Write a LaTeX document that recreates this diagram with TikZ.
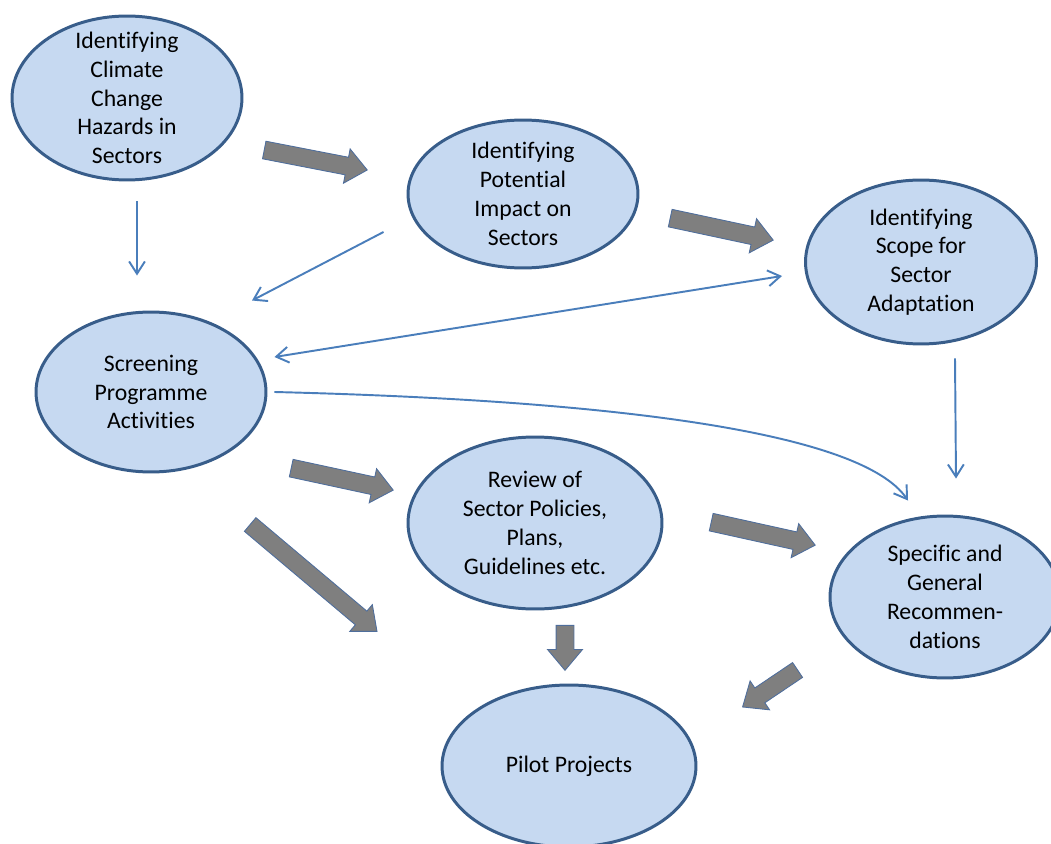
\documentclass[tikz,border=0pt]{standalone}
\usepackage{fontspec}
\setmainfont[Ligatures=NoCommon]{Carlito}
\usetikzlibrary{shapes.geometric,shapes.arrows,arrows.meta,calc}

\definecolor{ovalfill}{HTML}{C6D9F1}
\definecolor{ovaldraw}{HTML}{385D8A}
\definecolor{linkblue}{HTML}{4A7EBB}
\definecolor{blockgray}{HTML}{7F7F7F}
\definecolor{blockedge}{HTML}{4F6E9C}

% block arrow from #2 to #3, named #1
\newcommand{\blockarrow}[3]{%
  \path let \p1=($(#3)-(#2)$), \n1={atan2(\y1,\x1)}, \n2={veclen(\x1,\y1)} in
    node[blockarr, rotate=\n1, minimum height=\n2] (#1) at ($(#2)!0.5!(#3)$) {};}

\begin{document}
\begin{tikzpicture}[x=0.02cm, y=-0.02cm,
    phase/.style={ellipse, draw=ovaldraw, line width=1.7pt, fill=ovalfill,
        inner sep=-1cm, align=center, font=\fontsize{13.5}{16.4}\selectfont},
    link/.style={draw=linkblue, line width=1.1pt},
    >={Straight Barb[length=7pt,width=9pt]},
    blockarr/.style={single arrow, draw=blockedge, line width=0.5pt, fill=blockgray,
        inner xsep=0pt, inner ysep=0.17cm, single arrow head extend=0.17cm,
        single arrow tip angle=80}]

    \useasboundingbox (0,0) rectangle (1051,844);

    %States
    \node[phase, minimum width=4.6cm, minimum height=3.28cm] (hazards) at (127,98)
        {Identifying\\Climate\\Change\\Hazards in\\Sectors};
    \node[phase, minimum width=4.6cm, minimum height=2.96cm] (impact) at (523,194)
        {Identifying\\Potential\\Impact on\\Sectors};
    \node[phase, minimum width=4.62cm, minimum height=3.28cm] (scope) at (921,262)
        {Identifying\\Scope for\\Sector\\Adaptation};
    \node[phase, minimum width=4.6cm, minimum height=3.2cm] (screening) at (151,392)
        {Screening\\Programme\\Activities};
    \node[phase, minimum width=5.08cm, minimum height=3.44cm] (review) at (535,523)
        {Review of\\Sector Policies,\\Plans,\\Guidelines etc.};
    \node[phase, minimum width=4.6cm, minimum height=3.24cm] (recom) at (945,597)
        {Specific and\\General\\Recommen-\\dations};
    \node[phase, minimum width=5.08cm, minimum height=3.24cm] (pilot) at (569,766)
        {Pilot Projects};

    %Edges
        %Thin links
    \draw[link, ->] ($(hazards.south)+(10,20)$) -- ($(screening.north)+(-14,-35)$);
    \draw[link, ->] ($(impact.west)+(-23,38)$) -- ($(screening.north)+(101,-10)$);
    \draw[link, <->] ($(screening.east)+(7,-35)$) -- ($(scope.west)+(-22,14)$);
    \draw[link, ->] ($(screening.east)+(7,0)$) .. controls (600,400) and (860,430) .. ($(recom.north)+(-37,-14)$);
    \draw[link, ->] ($(scope.south)+(34,13)$) -- ($(recom.north)+(11,-36)$);

        %Block arrows
    \blockarrow{step1}{259,149}{362,169}
    \blockarrow{step2}{665,217}{768,239}
    \blockarrow{step3}{286,467}{388,489}
    \blockarrow{step4}{706,521}{810,544}
    \blockarrow{step5}{246,521}{373,628}
    \blockarrow{step6}{565,620}{565,665}
    \blockarrow{step7}{802,667}{747,704}

\end{tikzpicture}
\end{document}
